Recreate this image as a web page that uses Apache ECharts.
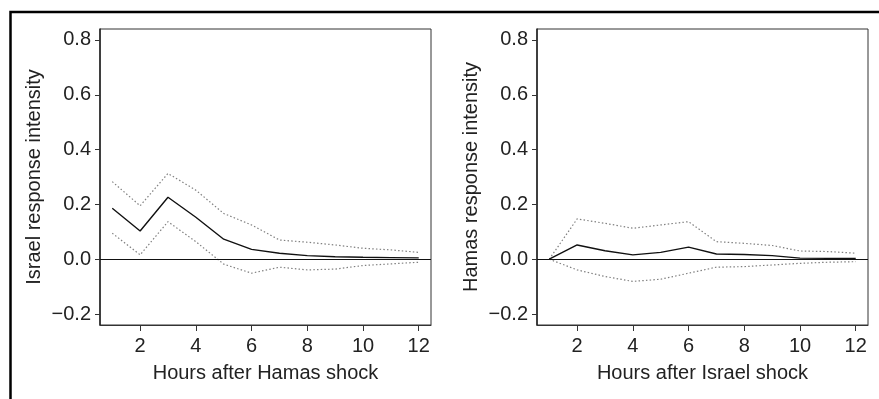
<!DOCTYPE html>
<html>
<head>
<meta charset="utf-8">
<script src="https://cdn.jsdelivr.net/npm/echarts@6/dist/echarts.min.js"></script>
<style>
  html, body { margin: 0; padding: 0; background: #fff; }
  #chart { width: 879px; height: 399px; }
</style>
</head>
<body>
<div id="chart"></div>
<script>
// hours after shock
const hours = [1, 2, 3, 4, 5, 6, 7, 8, 9, 10, 11, 12];
const xTicks = [2, 4, 6, 8, 10, 12];
const yTicks = [-0.2, 0.0, 0.2, 0.4, 0.6, 0.8];

// left panel: Israel response to Hamas shock
const israelResp = [0.186, 0.103, 0.226, 0.153, 0.073, 0.036, 0.022, 0.013, 0.009, 0.007, 0.006, 0.005];
const israelUpper = [0.283, 0.195, 0.313, 0.252, 0.167, 0.125, 0.070, 0.062, 0.052, 0.040, 0.034, 0.025];
const israelLower = [0.095, 0.016, 0.137, 0.064, -0.018, -0.051, -0.029, -0.039, -0.036, -0.023, -0.017, -0.011];

// right panel: Hamas response to Israel shock
const hamasResp = [0.0, 0.052, 0.031, 0.016, 0.025, 0.044, 0.019, 0.017, 0.013, 0.004, 0.003, 0.003];
const hamasUpper = [0.0, 0.147, 0.131, 0.113, 0.125, 0.137, 0.064, 0.058, 0.050, 0.030, 0.028, 0.022];
const hamasLower = [0.0, -0.039, -0.063, -0.081, -0.073, -0.051, -0.029, -0.027, -0.021, -0.015, -0.011, -0.009];

const font = 'Liberation Sans, Arial, Helvetica, sans-serif';
const txt = '#222';
const fs = 20;

const chart = echarts.init(document.getElementById('chart'));

function pairs(vals) {
    return hours.map((h, i) => [h, vals[i]]);
}

function xAxisFor(idx, title) {
    return {
        type: 'value',
        gridIndex: idx,
        min: 0.56,
        max: 12.44,
        name: title,
        nameLocation: 'middle',
        nameGap: 38,
        nameTextStyle: { color: txt, fontSize: fs, fontFamily: font },
        axisLine: { show: true, onZero: false, lineStyle: { color: '#333', width: 1 } },
        axisTick: { show: true, length: 6, customValues: xTicks, lineStyle: { color: '#333' } },
        axisLabel: { customValues: xTicks, margin: 11, color: txt, fontSize: fs, fontFamily: font },
        splitLine: { show: false }
    };
}

function yAxisFor(idx, title) {
    return {
        type: 'value',
        gridIndex: idx,
        min: -0.24,
        max: 0.84,
        name: title,
        nameLocation: 'middle',
        nameGap: 56,
        nameTextStyle: { color: txt, fontSize: fs, fontFamily: font },
        axisLine: { show: true, lineStyle: { color: '#222', width: 1.5 } },
        axisTick: { show: true, length: 5, customValues: yTicks, lineStyle: { color: '#333' } },
        axisLabel: {
            customValues: yTicks,
            margin: 9,
            color: txt,
            fontSize: fs,
            fontFamily: font,
            formatter: v => v.toFixed(1).replace('-', '\u2212')
        },
        splitLine: { show: false }
    };
}

function band(idx, vals) {
    return {
        type: 'line',
        xAxisIndex: idx,
        yAxisIndex: idx,
        data: pairs(vals),
        symbol: 'none',
        silent: true,
        lineStyle: { color: '#808080', width: 1.2, type: [1.5, 2.2] }
    };
}

function main(idx, vals) {
    return {
        type: 'line',
        xAxisIndex: idx,
        yAxisIndex: idx,
        data: pairs(vals),
        symbol: 'none',
        silent: true,
        z: 3,
        lineStyle: { color: '#111', width: 1.4 },
        markLine: {
            silent: true,
            symbol: 'none',
            label: { show: false },
            lineStyle: { color: '#111', width: 1.1, type: 'solid' },
            data: [{ yAxis: 0 }]
        }
    };
}

const option = {
    animation: false,
    backgroundColor: '#fff',
    grid: [
        { left: 100, top: 29, width: 331, height: 296, show: true, borderColor: '#333', borderWidth: 1 },
        { left: 537, top: 29, width: 331, height: 296, show: true, borderColor: '#333', borderWidth: 1 }
    ],
    xAxis: [
        xAxisFor(0, 'Hours after Hamas shock'),
        xAxisFor(1, 'Hours after Israel shock')
    ],
    yAxis: [
        yAxisFor(0, 'Israel response intensity'),
        yAxisFor(1, 'Hamas response intensity')
    ],
    graphic: [
        {
            type: 'polyline',
            silent: true,
            shape: { points: [[10.5, 400], [10.5, 12], [880, 12]] },
            style: { stroke: '#000', lineWidth: 2.5, fill: null }
        }
    ],
    series: [
        band(0, israelUpper),
        band(0, israelLower),
        main(0, israelResp),
        band(1, hamasUpper),
        band(1, hamasLower),
        main(1, hamasResp)
    ]
};

chart.setOption(option);
</script>
</body>
</html>
